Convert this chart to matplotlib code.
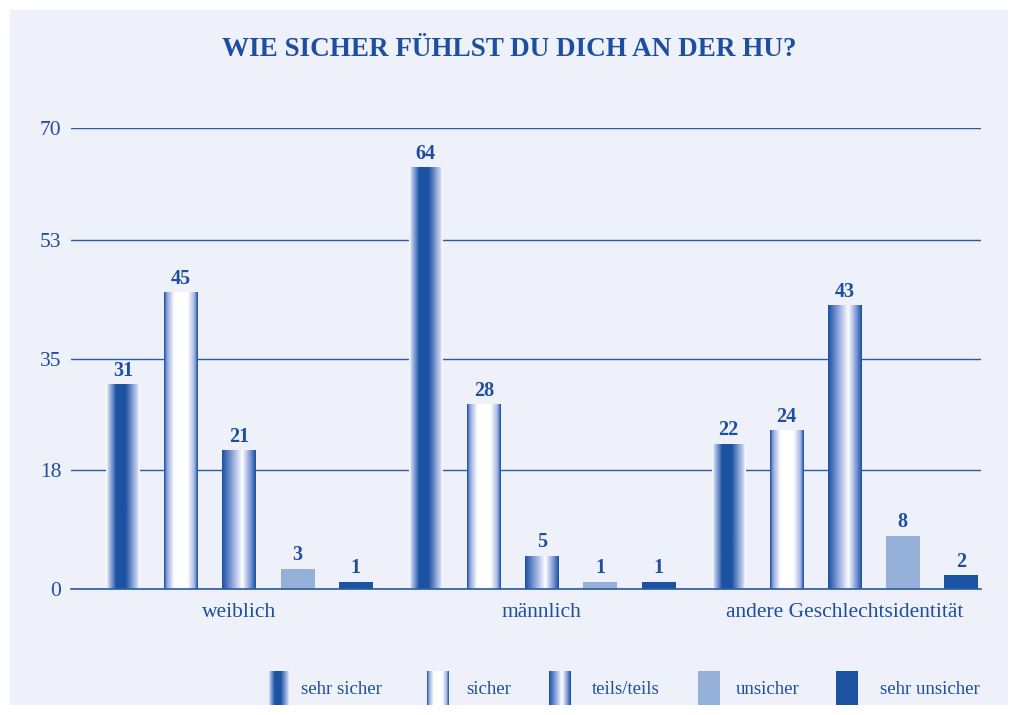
import numpy as np
import matplotlib.pyplot as plt
from matplotlib.colors import LinearSegmentedColormap, to_rgb
from matplotlib.patches import Rectangle

# Daten
groups = ['weiblich', 'männlich', 'andere Geschlechtsidentität']
answers = ['sehr sicher', 'sicher', 'teils/teils', 'unsicher', 'sehr unsicher']
sehr_sicher = [31, 64, 22]
sicher = [45, 28, 24]
teils = [21, 5, 43]
unsicher = [3, 1, 8]
sehr_unsicher = [1, 1, 2]
yticks = [0, 18, 35, 53, 70]

values = [sehr_sicher, sicher, teils, unsicher, sehr_unsicher]

BLUE = '#1b52a2'
LIGHT = '#95b1da'
TEXT = '#1d4f9e'
BG = '#eef0fa'

# Farbverläufe quer über die Balkenbreite
profiles = [
    [(0, 'white'), (0.08, '#b7c5ea'), (0.3, BLUE), (0.58, BLUE), (0.92, '#c4cff0'), (1, 'white')],
    [(0, BLUE), (0.08, '#8ea4dc'), (0.3, 'white'), (0.7, 'white'), (0.9, '#a8b8e6'), (1, BLUE)],
    [(0, BLUE), (0.3, '#8ea4dc'), (0.6, 'white'), (0.85, '#7a93d3'), (1, BLUE)],
    [(0, LIGHT), (1, LIGHT)],
    [(0, BLUE), (1, BLUE)],
]
cmaps = [LinearSegmentedColormap.from_list('g%d' % i, [(p, to_rgb(c)) for p, c in prof])
         for i, prof in enumerate(profiles)]
grad = np.linspace(0, 1, 64).reshape(1, -1)

plt.rcParams['font.family'] = ['Liberation Serif', 'DejaVu Serif']

fig = plt.figure(figsize=(10.18, 7.15), dpi=100)
fig.patch.set_facecolor('white')
fig.patches.append(Rectangle((10 / 1018, 10 / 715), 998 / 1018, 695 / 715,
                             transform=fig.transFigure, facecolor=BG,
                             edgecolor='none', zorder=-10))

ax = fig.add_axes([71 / 1018, 1 - 589 / 715, 910 / 1018, 461 / 715])
ax.set_facecolor('none')

offset = 0.192
width = 0.11
x = np.arange(len(groups))

for i, (vals, cm) in enumerate(zip(values, cmaps)):
    for g, v in enumerate(vals):
        xc = x[g] + (i - 2) * offset
        ax.imshow(grad, cmap=cm, aspect='auto', interpolation='bilinear',
                  extent=(xc - width / 2, xc + width / 2, 0, v), zorder=3)
        ax.text(xc, v + 0.6, str(v), ha='center', va='bottom', color=TEXT,
                fontsize=14.5, fontweight='bold')

ax.set_xlim(-0.555, 2.45)
ax.set_ylim(0, 70)
ax.set_yticks(yticks)
ax.set_yticklabels([str(t) for t in yticks], color=TEXT, fontsize=15.5)
ax.tick_params(axis='y', length=0, pad=7)
ax.set_xticks(x)
ax.set_xticklabels(groups, color=TEXT, fontsize=15.5)
ax.tick_params(axis='x', length=0, pad=10)
ax.grid(axis='y', color='#2a5aa8', linewidth=1.0)
ax.axhline(0, color='#2a5aa8', linewidth=1.2, clip_on=False, zorder=4)
ax.set_axisbelow(True)
for s in ax.spines.values():
    s.set_visible(False)

fig.text(0.5, 1 - 50 / 715, 'WIE SICHER FÜHLST DU DICH AN DER HU?', ha='center',
         va='center', color=TEXT, fontsize=19.5, fontweight='bold')

# Legende
leg_x = [268, 427, 549, 698, 836]
leg_tx = [301, 466, 592, 736, 880]
for lx, tx, cm, name in zip(leg_x, leg_tx, cmaps, answers):
    lax = fig.add_axes([lx / 1018, 1 - 705 / 715, 22 / 1018, 34 / 715])
    lax.imshow(grad, cmap=cm, aspect='auto', interpolation='bilinear')
    lax.axis('off')
    fig.text(tx / 1018, 1 - 689 / 715, name, ha='left', va='center',
             color=TEXT, fontsize=13.5)

plt.savefig('out.png', dpi=100, facecolor='white')
